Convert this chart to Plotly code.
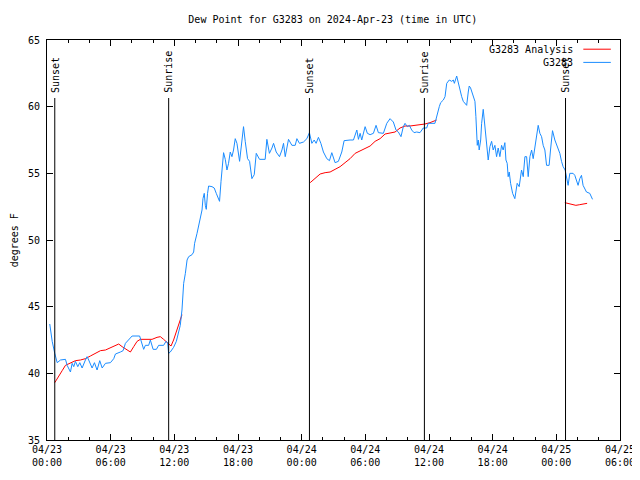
import pandas as pd
import plotly.graph_objects as go

start = pd.Timestamp("2024-04-23 00:00")

# Observations (hours after 2024-04-23 00:00 UTC, deg F)
obs_hours = [0.26, 0.49, 0.73, 0.96, 1.27, 1.74, 1.90, 2.21, 2.37, 2.52, 2.68, 2.90, 3.09, 3.31, 3.62, 3.78, 3.93, 4.25, 4.47, 4.72,
             4.97, 5.20, 5.51, 5.82, 5.98, 6.29, 6.45, 6.92, 7.17, 7.39, 7.70, 8.02, 8.73, 8.96, 9.11, 9.27, 9.58, 9.74, 10.0, 10.31,
             10.52, 10.99, 11.22, 11.37, 11.46, 11.62, 11.93, 12.19, 12.40, 12.56, 12.72, 12.82, 12.88, 13.04, 13.20, 13.35, 13.67, 13.82, 13.91, 14.14,
             14.29, 14.45, 14.61, 14.70, 14.82, 14.92, 15.01, 15.13, 15.23, 15.55, 15.76, 15.95, 16.17, 16.26, 16.40, 16.49, 16.58, 16.64, 16.80, 16.96,
             17.11, 17.27, 17.43, 17.58, 17.74, 17.90, 18.15, 18.37, 18.52, 18.68, 18.90, 19.09, 19.22, 19.31, 19.53, 19.72, 20.03, 20.56, 20.72, 20.96,
             21.20, 21.35, 21.60, 21.91, 22.14, 22.29, 22.45, 22.66, 22.76, 23.08, 23.39, 23.55, 23.79, 24.17, 24.49, 24.73, 24.96, 25.18, 25.36, 25.58,
             25.81, 26.05, 26.37, 26.62, 26.84, 27.15, 27.46, 27.78, 28.0, 28.56, 28.88, 29.20, 29.35, 29.51, 29.66, 29.98, 30.19, 30.45, 30.76, 31.01,
             31.23, 31.70, 32.02, 32.33, 32.64, 32.89, 33.11, 33.36, 33.58, 33.74, 33.96, 34.15, 34.37, 34.59, 34.84, 35.15, 35.31, 35.46, 35.78, 35.93,
             36.56, 36.66, 36.78, 36.97, 37.10, 37.35, 37.51, 37.67, 37.91, 38.14, 38.29, 38.39, 38.61, 38.76, 38.92, 39.08, 39.23, 39.39, 39.55, 39.70,
             39.79, 39.92, 40.11, 40.33, 40.42, 40.55, 40.64, 40.73, 40.87, 40.96, 41.11, 41.27, 41.43, 41.58, 41.74, 41.90, 42.05, 42.21, 42.37, 42.52,
             42.68, 42.84, 42.99, 43.15, 43.25, 43.37, 43.46, 43.56, 43.69, 43.88, 44.09, 44.31, 44.50, 44.72, 44.88, 45.04, 45.20, 45.35, 45.51, 45.67,
             45.82, 45.98, 46.29, 46.45, 46.61, 46.76, 46.92, 47.08, 47.32, 47.45, 47.64, 47.86, 48.02, 48.17, 48.33, 48.49, 48.64, 48.83, 48.96, 49.11,
             49.27, 49.58, 49.74, 49.90, 50.05, 50.21, 50.37, 50.52, 50.68, 50.84, 51.15, 51.41]
obs_values = [43.7, 42.4, 41.5, 40.8, 41.0, 41.05, 40.6, 40.1, 40.75, 40.5, 40.9, 40.5, 40.8, 40.4, 41.0, 41.25, 41.0, 40.4, 40.8, 40.25,
              40.95, 40.4, 40.75, 40.75, 40.8, 41.1, 41.45, 41.6, 41.7, 42.25, 42.5, 42.8, 42.8, 42.25, 41.8, 42.1, 42.1, 42.5, 41.8, 41.8,
              42.1, 42.1, 42.4, 42.3, 41.5, 41.6, 41.95, 42.4, 43.0, 43.6, 44.75, 45.9, 46.75, 47.5, 48.5, 48.75, 48.9, 49.1, 49.75, 50.5,
              51.1, 51.75, 52.25, 53.1, 53.5, 52.6, 52.3, 53.5, 54.05, 54.0, 53.9, 53.5, 53.1, 52.9, 54.4, 55.25, 56.0, 56.55, 56.05, 55.25,
              55.75, 56.6, 56.25, 56.75, 57.6, 57.25, 55.9, 57.25, 58.5, 57.4, 56.1, 55.9, 54.9, 54.6, 54.9, 56.5, 56.05, 56.05, 57.55, 56.5,
              56.9, 57.25, 56.6, 56.25, 56.75, 57.25, 56.25, 57.0, 57.55, 57.1, 57.1, 57.6, 57.25, 57.35, 57.6, 58.05, 57.25, 57.5, 57.25, 57.7,
              57.25, 56.6, 56.1, 55.95, 56.55, 55.8, 55.9, 56.6, 57.45, 57.5, 57.5, 58.25, 57.55, 58.0, 57.5, 58.5, 58.0, 57.9, 58.0, 58.6,
              58.05, 58.0, 58.75, 59.1, 58.85, 58.25, 58.1, 57.75, 58.5, 58.75, 58.5, 58.6, 58.25, 58.05, 58.1, 58.05, 58.25, 58.4, 58.4, 58.75,
              58.75, 59.1, 59.5, 60.0, 60.3, 60.5, 60.75, 61.75, 62.0, 61.9, 62.0, 61.75, 62.3, 61.75, 61.25, 60.75, 60.4, 60.25, 60.1, 61.1,
              61.55, 61.4, 60.9, 60.4, 59.25, 57.1, 57.5, 56.75, 57.5, 58.75, 59.8, 58.5, 57.5, 56.0, 57.0, 57.4, 56.75, 57.1, 56.25, 56.9,
              56.25, 57.1, 56.75, 57.3, 56.0, 55.75, 54.75, 55.1, 54.25, 53.5, 53.1, 54.25, 54.0, 55.25, 54.75, 56.25, 56.25, 54.75, 56.25, 56.75,
              56.1, 57.0, 58.6, 58.0, 57.75, 57.1, 56.75, 55.6, 55.6, 56.75, 58.2, 57.5, 57.1, 56.9, 56.5, 55.9, 55.5, 55.25, 54.75, 54.1,
              55.0, 55.0, 54.85, 54.4, 54.1, 54.6, 54.85, 54.1, 53.9, 53.6, 53.5, 53.05]

# Analysis (three nighttime segments, None = gap)
ana_hours = [0.73, 1.11, 1.43, 1.74, 2.21, 2.68, 3.15, 3.62, 4.09, 4.56, 5.04, 5.51, 5.98, 6.45, 6.76, 7.08, 7.55, 7.86, 8.17, 8.49,
             8.80, 9.90, 10.37, 10.68, 10.99, 11.31, 11.46, 11.69, 11.93, 12.25, 12.50, 12.72, 18.0,
             24.80, 25.27, 25.74, 26.21, 26.68, 27.15, 27.62, 28.09, 28.56, 29.04, 29.51, 29.98, 30.45, 30.92, 31.39, 31.86, 32.33, 32.80,
             33.27, 33.74, 34.21, 34.68, 35.15, 35.62, 36.09, 36.40, 36.72, 42.0,
             48.80, 49.11, 49.43, 49.84, 50.21, 50.68, 50.90]
ana_values = [39.3, 39.75, 40.2, 40.6, 40.8, 40.95, 41.0, 41.1, 41.3, 41.5, 41.7, 41.75, 41.9, 42.05, 42.2, 42.0, 41.75, 41.6, 42.0, 42.4,
              42.55, 42.55, 42.7, 42.75, 42.55, 42.3, 42.25, 42.05, 42.5, 43.25, 43.9, 44.4, None,
              54.3, 54.6, 54.95, 55.05, 55.1, 55.3, 55.5, 55.8, 56.1, 56.5, 56.7, 56.9, 57.05, 57.4, 57.6, 57.95, 58.0, 58.1,
              58.4, 58.55, 58.55, 58.6, 58.6, 58.7, 58.8, 58.9, 59.0, None,
              52.8, 52.75, 52.7, 52.6, 52.65, 52.7, 52.75]

sun_times = ["2024-04-23 00:44", "2024-04-23 11:28", "2024-04-24 00:44", "2024-04-24 11:34", "2024-04-25 00:52"]
sun_labels = ["Sunset", "Sunrise", "Sunset", "Sunrise", "Sunset"]

tick_times = ["2024-04-23 00:00", "2024-04-23 06:00", "2024-04-23 12:00", "2024-04-23 18:00", "2024-04-24 00:00",
              "2024-04-24 06:00", "2024-04-24 12:00", "2024-04-24 18:00", "2024-04-25 00:00", "2024-04-25 06:00"]
tick_labels = ["04/23<br>00:00", "04/23<br>06:00", "04/23<br>12:00", "04/23<br>18:00", "04/24<br>00:00",
               "04/24<br>06:00", "04/24<br>12:00", "04/24<br>18:00", "04/25<br>00:00", "04/25<br>06:00"]

RED = "#ff0000"
BLUE = "#1a8cff"
FONT = "DejaVu Sans Mono"

obs_t = start + pd.to_timedelta(obs_hours, unit="h")
ana_t = start + pd.to_timedelta(ana_hours, unit="h")

fig = go.Figure()
fig.add_trace(go.Scatter(x=ana_t, y=ana_values, mode="lines", line=dict(color=RED, width=1),
                         connectgaps=False, name="G3283 Analysis", showlegend=False))
fig.add_trace(go.Scatter(x=obs_t, y=obs_values, mode="lines", line=dict(color=BLUE, width=1),
                         name="G3283", showlegend=False))

shapes = []
annotations = []
for t, lab in zip(sun_times, sun_labels):
    shapes.append(dict(type="line", xref="x", yref="paper", x0=t, x1=t, y0=0, y1=0.855,
                       line=dict(color="black", width=1)))
    annotations.append(dict(x=t, y=0.862, xref="x", yref="paper", text=lab, textangle=-90,
                            showarrow=False, xanchor="center", yanchor="bottom",
                            font=dict(family=FONT, size=10, color="black")))

# legend (gnuplot style: text then sample)
for i, (name, col) in enumerate([("G3283 Analysis", RED), ("G3283", BLUE)]):
    yy = 0.977 - i * 0.033
    annotations.append(dict(x=0.921, y=yy, xref="paper", yref="paper", text=name, showarrow=False,
                            xanchor="right", yanchor="middle", font=dict(family=FONT, size=10, color="black")))
    shapes.append(dict(type="line", xref="paper", yref="paper", x0=0.936, x1=0.984, y0=yy, y1=yy,
                       line=dict(color=col, width=1)))

annotations.append(dict(x=-0.057, y=0.5, xref="paper", yref="paper", text="degrees F", textangle=-90,
                        showarrow=False, xanchor="center", yanchor="middle",
                        font=dict(family=FONT, size=10, color="black")))

# page body has an 8px margin, so the figure is 8px smaller on each side
fig.update_layout(
    width=632, height=472,
    margin=dict(l=39, r=20, t=32, b=40, autoexpand=False),
    paper_bgcolor="white", plot_bgcolor="white",
    font=dict(family=FONT, size=10, color="black"),
    shapes=shapes,
    annotations=annotations,
    title=dict(text="Dew Point for G3283 on 2024-Apr-23 (time in UTC)", x=0.514, xanchor="center",
               y=0.975, yanchor="middle", font=dict(family=FONT, size=10, color="black")),
)

fig.update_xaxes(type="date", range=["2024-04-23 00:00", "2024-04-25 06:00"],
                 tickvals=tick_times, ticktext=tick_labels, ticks="inside", ticklen=6,
                 tickcolor="black", showline=True, linecolor="black", linewidth=1, mirror="ticks",
                 showgrid=False, zeroline=False, automargin=False,
                 minor=dict(dtick=2 * 3600 * 1000, tick0="2024-04-23 00:00", ticks="inside", ticklen=3,
                            tickcolor="black", showgrid=False),
                 tickfont=dict(family=FONT, size=10, color="black"))
fig.update_yaxes(range=[35, 65], dtick=5, tick0=35, ticks="inside", ticklen=6, tickcolor="black",
                 showline=True, linecolor="black", linewidth=1, mirror="ticks", showgrid=False,
                 zeroline=False, ticklabelstandoff=4, automargin=False,
                 tickfont=dict(family=FONT, size=10, color="black"))

fig.write_html("out.html")
